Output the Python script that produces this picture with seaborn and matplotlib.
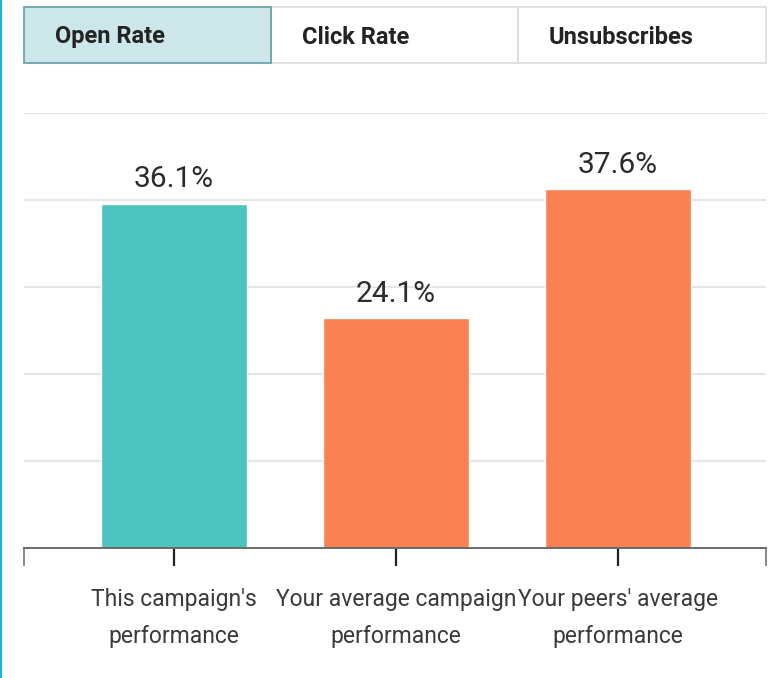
import matplotlib
matplotlib.use("Agg")
import matplotlib.pyplot as plt
import seaborn as sns
import pandas as pd
import numpy as np
from matplotlib.patches import Rectangle

# Chart data
categories = ["This campaign's\nperformance",
              "Your average campaign\nperformance",
              "Your peers' average\nperformance"]
open_rate = [36.1, 24.1, 37.6]
value_labels = ["36.1%", "24.1%", "37.6%"]
bar_colors = ["#4CC3BF", "#F98152", "#F98152"]
tabs = ["Open Rate", "Click Rate", "Unsubscribes"]

sns.set_theme(style="white")
plt.rcParams["font.family"] = ["Roboto", "DejaVu Sans"]

W, H = 769, 678
fig = plt.figure(figsize=(W / 100, H / 100), dpi=100)
fig.patch.set_facecolor("white")

# plot area in pixel terms: x 24..766, y 113..548
ax = fig.add_axes([24 / W, 1 - 548 / H, (766 - 24) / W, (548 - 113) / H])

df = pd.DataFrame({"label": categories, "rate": open_rate})
sns.barplot(data=df, x="label", y="rate", hue="label", palette=bar_colors,
            width=0.66, saturation=1, legend=False, ax=ax, zorder=2)

ymax = 45.6
ax.set_ylim(0, ymax)
ax.set_xlim(-0.676, 2.667)
ax.set_yticks(np.linspace(0, ymax, 6))
ax.set_yticklabels([])
ax.tick_params(axis="y", length=0)
ax.grid(axis="y", color="#E6E6E6", linewidth=1.5)
ax.set_axisbelow(True)
ax.set_xlabel("")
ax.set_ylabel("")

for side in ["top", "left", "right"]:
    ax.spines[side].set_visible(False)
ax.spines["bottom"].set_color("#6A6A6A")
ax.spines["bottom"].set_linewidth(1.4)
ax.spines["bottom"].set_zorder(3)

ax.set_xticks([0, 1, 2])
ax.set_xticklabels(categories, fontsize=16.5, color="#3A3A3A", linespacing=1.78)
ax.tick_params(axis="x", which="major", length=13, width=1.6, color="#222222",
               pad=16, bottom=True)
ax.set_xticks([-0.676, 2.667], minor=True)
ax.tick_params(axis="x", which="minor", length=13, width=1.1, color="#6A6A6A",
               bottom=True)

for i, (v, lbl) in enumerate(zip(open_rate, value_labels)):
    ax.annotate(lbl, (i, v), xytext=(0, 7.5), textcoords="offset points",
                ha="center", va="bottom", fontsize=21.5, color="#2B2B2B", zorder=4)

# tab buttons above the chart
tab_x = [24, 271, 518, 766]
for j, name in enumerate(tabs):
    x0, x1 = tab_x[j], tab_x[j + 1]
    active = j == 0
    fig.add_artist(Rectangle((x0 / W, 1 - 63 / H), (x1 - x0) / W, 56 / H,
                             transform=fig.transFigure,
                             facecolor="#CCE6E9" if active else "white",
                             edgecolor="#5E9EA3" if active else "#DCDCDC",
                             linewidth=1.2, zorder=1 if not active else 2))
    fig.text((x0 + 31) / W, 1 - 37 / H, name, ha="left", va="center",
             fontsize=17, fontweight="bold", color="#232323")

# accent strip on the left edge
fig.add_artist(Rectangle((0, 0), 2 / W, 1, transform=fig.transFigure,
                         facecolor="#1BB6D9", edgecolor="none"))

fig.savefig("out.png", dpi=100)
